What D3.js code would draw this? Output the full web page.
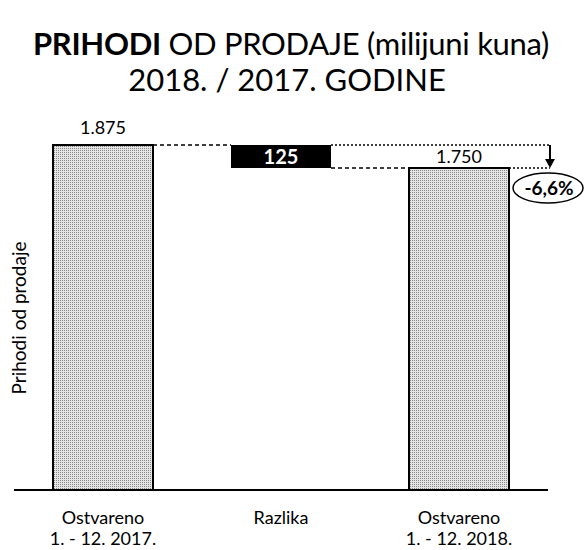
<!DOCTYPE html>
<html><head><meta charset="utf-8">
<script src="https://cdn.jsdelivr.net/npm/d3@7"></script>
<style>body{margin:0;background:#fff}svg{display:block}text{font-family:Lato,"Open Sans",sans-serif}</style>
</head><body><svg id="c" width="585" height="550"></svg>
<script>
const categories = ["Ostvareno|1. - 12. 2017.", "Razlika", "Ostvareno|1. - 12. 2018."];
const values2017 = 1875;
const values2018 = 1750;
const diffValue = 125;
const valueLabels = ["1.875", "125", "1.750"];
const pctLabel = "-6,6%";
const yTitle = "Prihodi od prodaje";

const svg = d3.select("#c");
const defs = svg.append("defs");
const pat = defs.append("pattern").attr("id","dots").attr("width",2).attr("height",2).attr("patternUnits","userSpaceOnUse");
pat.append("rect").attr("width",2).attr("height",2).attr("fill","#e4e4e4");
pat.append("rect").attr("width",1).attr("height",1).attr("fill","#8a8a8a");

const x = d3.scaleBand().domain(categories).range([14, 548]).paddingInner(0).paddingOuter(0);
const bw = 100;
const cx = d => x(d) + x.bandwidth()/2;
const y = d3.scaleLinear().domain([0, values2017]).range([490, 145]);

// title
const t1 = svg.append("text").attr("x", 291).attr("y", 55).attr("text-anchor","middle").attr("font-size", 31).attr("letter-spacing", -0.3);
t1.append("tspan").attr("font-weight","bold").text("PRIHODI");
t1.append("tspan").text(" OD PRODAJE (milijuni kuna)");
svg.append("text").attr("x", 287).attr("y", 91).attr("text-anchor","middle").attr("font-size", 31).text("2018. / 2017. GODINE");

// bars
const bars = [{c: categories[0], v: values2017}, {c: categories[2], v: values2018}];
svg.selectAll("rect.bar").data(bars).enter().append("rect").attr("class","bar")
  .attr("x", d => cx(d.c) - bw/2).attr("width", bw)
  .attr("y", d => y(d.v)).attr("height", d => y(0) - y(d.v))
  .attr("fill", "url(#dots)").attr("stroke", "#000").attr("stroke-width", 2);

// diff box
svg.append("rect").attr("x", cx(categories[1]) - bw/2).attr("width", bw)
  .attr("y", y(values2017)).attr("height", y(values2018) - y(values2017)).attr("fill", "#000");
svg.append("text").attr("x", cx(categories[1])).attr("y", y((values2017+values2018)/2) + 7)
  .attr("text-anchor","middle").attr("font-size", 20).attr("font-weight","bold").attr("fill","#fff").text(diffValue);

// connector lines
const arrowX = 550;
const ln = (x1, x2, yy, dash) => svg.append("line").attr("x1", x1).attr("x2", x2).attr("y1", yy).attr("y2", yy)
  .attr("stroke", "#000").attr("stroke-width", 1.3).attr("stroke-dasharray", dash);
ln(cx(categories[0]) + bw/2, cx(categories[1]) - bw/2, y(values2017), "4,3");
ln(cx(categories[1]) + bw/2, arrowX, y(values2017), "2,2");
ln(cx(categories[1]) + bw/2, cx(categories[2]) - bw/2, y(values2018), "4,3");
ln(cx(categories[2]) + bw/2, arrowX, y(values2018), "2,2");

// arrow
svg.append("line").attr("x1", arrowX).attr("x2", arrowX).attr("y1", y(values2017)).attr("y2", y(values2018) - 6)
  .attr("stroke","#000").attr("stroke-width", 2);
svg.append("path").attr("d", `M${arrowX-5},${y(values2018)-9} L${arrowX+5},${y(values2018)-9} L${arrowX},${y(values2018)} Z`).attr("fill","#000");

// value labels
svg.append("text").attr("x", cx(categories[0])).attr("y", y(values2017) - 11).attr("text-anchor","middle").attr("font-size", 18).text(valueLabels[0]);
svg.append("rect").attr("x", cx(categories[2]) - 28).attr("y", y(values2017) + 3).attr("width", 56).attr("height", 19).attr("fill", "#fff");
svg.append("text").attr("x", cx(categories[2])).attr("y", y(values2018) - 5).attr("text-anchor","middle").attr("font-size", 18).text(valueLabels[2]);

// percent ellipse
svg.append("ellipse").attr("cx", 548).attr("cy", 188).attr("rx", 35).attr("ry", 15).attr("fill","#fff").attr("stroke","#000").attr("stroke-width", 1.5);
svg.append("text").attr("x", 549).attr("y", 195).attr("text-anchor","middle").attr("font-size", 19).attr("font-weight","bold").text(pctLabel);

// baseline
svg.append("line").attr("x1", 14).attr("x2", 548).attr("y1", y(0)).attr("y2", y(0)).attr("stroke","#000").attr("stroke-width", 2);

// x labels
categories.forEach(c => {
  const parts = c.split("|");
  parts.forEach((p, i) => svg.append("text").attr("x", cx(c)).attr("y", 524 + i*21).attr("text-anchor","middle").attr("font-size", 18).text(p));
});

// y title
svg.append("text").attr("transform", "translate(26,318) rotate(-90)").attr("text-anchor","middle").attr("font-size", 19).text(yTitle);
</script></body></html>
